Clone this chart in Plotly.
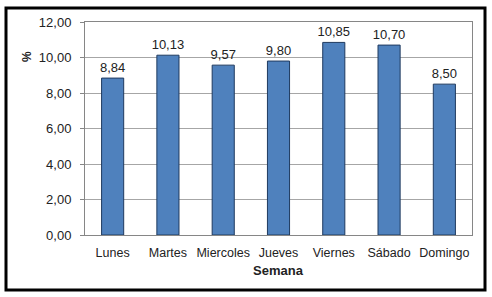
import plotly.graph_objects as go

dias = ["Lunes", "Martes", "Miercoles", "Jueves", "Viernes", "Sábado", "Domingo"]
valores = [8.84, 10.13, 9.57, 9.80, 10.85, 10.70, 8.50]
y_ticks = [0, 2, 4, 6, 8, 10, 12]

W, H = 492, 297
ml, mr, mt, mb = 85, 20, 22, 62
pw, ph = W - ml - mr, H - mt - mb

def px(x):
    return (x - ml) / pw

def py(y):
    return (H - mb - y) / ph

fig = go.Figure(go.Bar(
    x=dias, y=valores,
    marker=dict(color="#4F81BD", line=dict(color="#1F3A5F", width=1)),
    texttemplate="%{y:.2f}", textposition="outside", constraintext="none",
    textfont=dict(size=13, color="#222222", family="Liberation Sans, Arial"),
    cliponaxis=False,
))

fig.update_layout(
    width=W, height=H,
    margin=dict(l=ml, r=mr, t=mt, b=mb, autoexpand=False),
    paper_bgcolor="white", plot_bgcolor="white",
    separators=",.",
    bargap=0.6,
    showlegend=False,
    font=dict(family="Liberation Sans, Arial", size=12, color="#222222"),
    xaxis=dict(
        showline=True, linecolor="#868686", linewidth=1, mirror=True,
        tickfont=dict(size=12.5), ticks="", showgrid=False, automargin=False,
        ticklabelstandoff=6,
    ),
    yaxis=dict(
        range=[0, 12], tickvals=y_ticks, tickformat=".2f",
        showline=True, linecolor="#868686", linewidth=1, mirror=True,
        gridcolor="#A6A6A6", gridwidth=1,
        ticks="outside", ticklen=4, tickcolor="#868686",
        tickfont=dict(size=13), automargin=False,
        ticklabelstandoff=6,
        zeroline=False,
    ),
    annotations=[
        dict(text="<b>%</b>", x=px(27), y=py(57), xref="paper", yref="paper",
             xanchor="center", yanchor="middle",
             showarrow=False, textangle=-90, font=dict(size=12, color="#222222")),
        dict(text="<b>Semana</b>", x=px(278), y=py(270), xref="paper", yref="paper",
             xanchor="center", yanchor="middle",
             showarrow=False, font=dict(size=13, color="#222222")),
    ],
    shapes=[dict(
        type="rect", xref="paper", yref="paper",
        x0=px(6), x1=px(485), y0=py(8), y1=py(290),
        line=dict(color="black", width=3), fillcolor="rgba(0,0,0,0)",
    )],
)

fig.write_html(
    "out.html",
    config={"displayModeBar": False},
    post_script="document.body.style.margin='0';document.body.style.overflow='hidden';",
)
